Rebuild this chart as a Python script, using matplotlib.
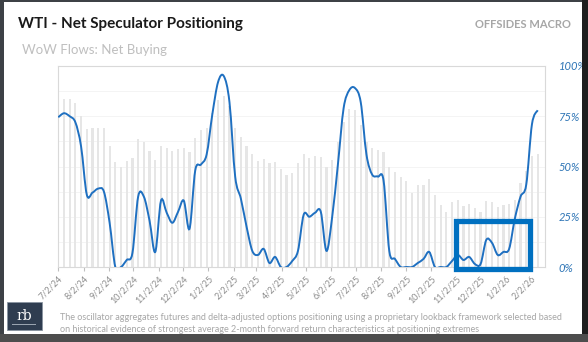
import matplotlib
matplotlib.use("Agg")
import matplotlib.pyplot as plt
import matplotlib.dates as mdates
from matplotlib.path import Path
from matplotlib.patches import PathPatch, Rectangle
import numpy as np
import pandas as pd

plt.rcParams["font.family"] = ["Lato", "DejaVu Sans"]

# weekly readings (CFTC Tuesdays), first one 2024-07-02
first_week = "2024-07-02"
oscillator = [74.5, 76.5, 75, 72, 60, 36, 37, 39, 37.5, 22,
              0, 0, 3.5, 7, 35, 35, 23, 7.5, 33, 27,
              22, 27.5, 33, 19, 48, 51, 56, 76, 92, 95,
              82, 45, 34, 20, 8, 6, 9, 2, 5, 0,
              0, 3, 8, 26, 25, 27, 27.5, 8, 25, 51,
              79, 88, 89, 82, 56, 46, 45, 43, 8, 4,
              0, 0, 0, 2, 4, 7.5, 0, 0, 0, 3,
              6, 3.5, 5, 1.5, 1.5, 13.5, 12, 6, 7.5, 9,
              24, 35, 41, 71, 78]
net_buying = [81.4, 83.6, 83.4, 81.8, 75, 68.7, 69, 69, 69, 60,
              52, 50, 52.5, 54, 63.5, 62, 57.7, 53, 60, 59,
              57.5, 58.5, 59.4, 57, 64, 68, 69, 76.5, 83, 85,
              80, 69, 64.5, 60, 56, 52.5, 53.5, 51.5, 52, 49,
              46, 47, 51.5, 56, 54, 55, 54.5, 50, 53, 62,
              72, 78.5, 78, 70.6, 62, 59, 58, 57, 50, 47.4,
              45, 43, 37, 40.8, 41, 44, 36, 31, 27.5, 32.5,
              33.5, 30.5, 31.5, 29.5, 27.5, 33, 32.5, 30, 31, 31.5,
              33.5, 41.8, 48, 55, 56]
tick_dates = ["2024-07-02", "2024-08-02", "2024-09-02", "2024-10-02", "2024-11-02",
              "2024-12-02", "2025-01-02", "2025-02-02", "2025-03-02", "2025-04-02",
              "2025-05-02", "2025-06-02", "2025-07-02", "2025-08-02", "2025-09-02",
              "2025-10-02", "2025-11-02", "2025-12-02", "2026-01-02", "2026-02-02"]
tick_labels = ["7/2/24", "8/2/24", "9/2/24", "10/2/24", "11/2/24", "12/2/24",
               "1/2/25", "2/2/25", "3/2/25", "4/2/25", "5/2/25", "6/2/25",
               "7/2/25", "8/2/25", "9/2/25", "10/2/25", "11/2/25", "12/2/25",
               "1/2/26", "2/2/26"]
pct_ticks = [0, 25, 50, 75, 100]
# highlighted window
box_start, box_end = "2025-11-02", "2026-01-31"
box_low, box_high = -1, 23

_BLUE = "#1f70c1"
_BAR = "#e6e6e6"


def smooth_path(x, y):
    """Excel-like smoothed line: cubic Bezier through every point."""
    n = len(x)
    verts = [(x[0], y[0])]
    codes = [Path.MOVETO]
    for i in range(n - 1):
        xa, ya = (x[i - 1], y[i - 1]) if i > 0 else (x[i], y[i])
        xb, yb = (x[i + 2], y[i + 2]) if i + 2 < n else (x[i + 1], y[i + 1])
        c1 = (x[i] + (x[i + 1] - xa) / 6, y[i] + (y[i + 1] - ya) / 6)
        c2 = (x[i + 1] - (xb - x[i]) / 6, y[i + 1] - (yb - y[i]) / 6)
        verts += [c1, c2, (x[i + 1], y[i + 1])]
        codes += [Path.CURVE4] * 3
    return Path(verts, codes)


weeks = mdates.date2num(pd.date_range(first_week, periods=len(oscillator), freq="7D"))

fig = plt.figure(figsize=(5.88, 3.42), dpi=100)
ax = fig.add_axes([58 / 588, 1 - 267 / 342, 487 / 588, 201 / 342])

ax.bar(weeks, net_buying, width=2.7, color=_BAR, zorder=1)
ax.add_patch(PathPatch(smooth_path(weeks, np.array(oscillator, float)),
                       fc="none", ec=_BLUE, lw=1.4, zorder=3))

ax.set_xlim(weeks[0] - 0.3, mdates.datestr2num("2026-02-19"))
ax.set_ylim(0, 100)
ax.set_xticks(mdates.datestr2num(tick_dates))
ax.set_xticklabels(tick_labels, rotation=45, ha="right", rotation_mode="anchor",
                   fontsize=6.5, color="#8c8c8c")
ax.tick_params(axis="x", length=3, color="#bfbfbf", pad=2)
ax.yaxis.tick_right()
ax.set_yticks(pct_ticks)
ax.set_yticklabels([f"{v}%" for v in pct_ticks], fontsize=8, color="#2e75b6",
                   style="italic")
ax.tick_params(axis="y", length=0, pad=10)
ax.set_yticks(np.arange(12.5, 100, 25), minor=True)
ax.tick_params(axis="y", which="minor", length=0)
ax.grid(axis="y", which="both", color="#f2f2f2", lw=0.6, zorder=0)
ax.set_axisbelow(True)
for s in ax.spines.values():
    s.set_color("#d9d9d9")
    s.set_linewidth(0.8)

x0, x1 = mdates.datestr2num(box_start), mdates.datestr2num(box_end)
ax.add_patch(Rectangle((x0, box_low), x1 - x0, box_high - box_low, fc="none",
                       ec="#0070c0", lw=3.8, clip_on=False, zorder=4))

# titles and footer
fig.text(18 / 588, 1 - 24 / 342, "WTI - Net Speculator Positioning", fontsize=11,
         fontweight="bold", color="#1a1a1a", va="center")
fig.text(22 / 588, 1 - 50 / 342, "WoW Flows: Net Buying", fontsize=9.5,
         color="#bfbfbf", va="center")
fig.text(571 / 588, 1 - 24 / 342, "OFFSIDES MACRO", fontsize=8, fontweight="bold",
         color="#a6a6a6", va="center", ha="right")
fig.text(60 / 588, 1 - 317 / 342,
         "The oscillator aggregates futures and delta-adjusted options positioning using a "
         "proprietary lookback framework selected based", fontsize=6.45, color="#a6a6a6",
         va="center")
fig.text(60 / 588, 1 - 329 / 342,
         "on historical evidence of strongest average 2-month forward return "
         "characteristics at positioning extremes", fontsize=6.45, color="#a6a6a6",
         va="center")

# logo block
fig.patches.append(Rectangle((7 / 588, 1 - 330 / 342), 35 / 588, 28 / 342,
                             transform=fig.transFigure, fc="#2f3d50", ec="#8a94a0",
                             lw=0.6))
fig.text(24 / 588, 1 - 316 / 342, "rb", fontsize=10, color="white", family="DejaVu Serif",
         ha="center", va="center")
fig.patches.append(Rectangle((12 / 588, 1 - 325 / 342), 24 / 588, 0.8 / 342,
                             transform=fig.transFigure, fc="#9aa4b0", ec="none"))

# screenshot frame
for (x, y, w, h, c) in [(0, 0, 4, 342, "#3d4146"), (0, 340, 588, 2, "#3d4146"),
                        (582, 0, 6, 342, "#1e1e1e"), (0, 0, 588, 8, "#4d4d4d")]:
    fig.patches.append(Rectangle((x / 588, y / 342), w / 588, h / 342,
                                 transform=fig.transFigure, fc=c, ec="none"))

fig.savefig("out.png", dpi=100)
